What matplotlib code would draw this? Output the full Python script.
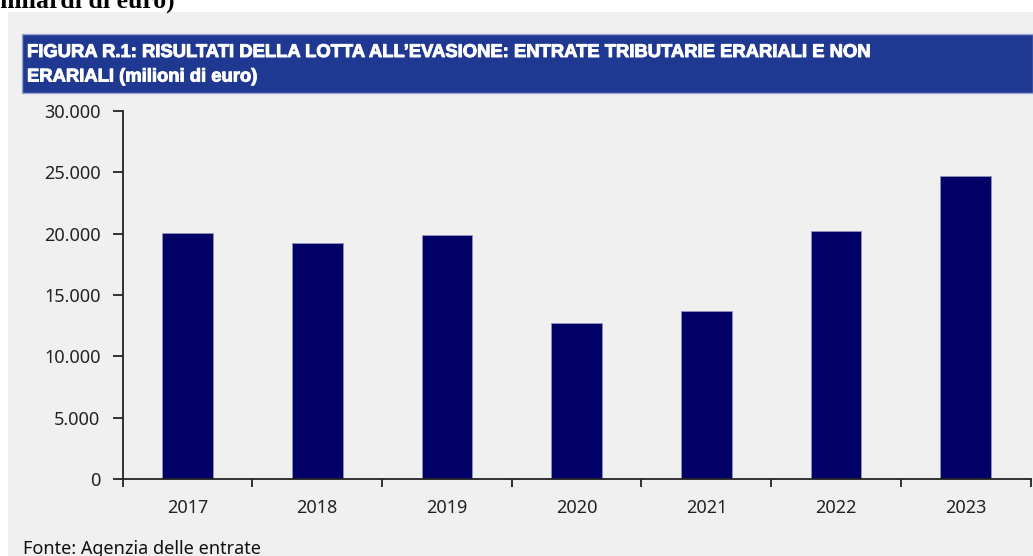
import matplotlib
matplotlib.use("Agg")
import matplotlib.pyplot as plt
import matplotlib.patheffects as pe
from matplotlib.patches import Rectangle
from matplotlib.ticker import FuncFormatter, FixedLocator

# ---- data ----
years = ["2017", "2018", "2019", "2020", "2021", "2022", "2023"]
values = [20050, 19210, 19860, 12720, 13730, 20210, 24680]
y_ticks = [0, 5000, 10000, 15000, 20000, 25000, 30000]
title_line1 = "FIGURA R.1: RISULTATI DELLA LOTTA ALL\u2019EVASIONE: ENTRATE TRIBUTARIE ERARIALI E NON"
title_line2 = "ERARIALI (milioni di euro)"
source = "Fonte: Agenzia delle entrate"
top_text = "miliardi di euro)"

W, H = 1033, 556
DPI = 100
fig = plt.figure(figsize=(W / DPI, H / DPI), dpi=DPI)
fig.patch.set_facecolor("white")

def fx(px):
    return px / W

def fy(py):
    return 1 - py / H

# gray panel
fig.add_artist(Rectangle((fx(8), 0), 1 - fx(8), fy(12), transform=fig.transFigure,
                         facecolor="#f0f0f0", edgecolor="none", zorder=0))
# blue title bar
fig.add_artist(Rectangle((fx(22), fy(93)), 1 - fx(22), fy(34) - fy(93), transform=fig.transFigure,
                         facecolor="#1f3892", edgecolor="#9aa6cf", linewidth=1.0, zorder=1))

NAVY = "#000066"
txt_font = ["Noto Sans", "DejaVu Sans"]

ax = fig.add_axes([fx(122.7), fy(479.3), fx(1030.6) - fx(122.7), fy(110.7) - fy(479.3)])
ax.set_facecolor("none")
x = list(range(len(years)))
ax.bar(x, values, width=0.39, color=NAVY, edgecolor="#8f93bd", linewidth=0.6, zorder=2)
ax.set_xlim(-0.5, len(years) - 0.5)
ax.set_ylim(0, 30000)

for s in ["top", "right"]:
    ax.spines[s].set_visible(False)
for s in ["left", "bottom"]:
    ax.spines[s].set_color("#222222")
    ax.spines[s].set_linewidth(1.3)

ax.set_yticks(y_ticks)
ax.yaxis.set_major_formatter(FuncFormatter(lambda v, p: f"{int(v):,}".replace(",", ".")))
ax.tick_params(axis="y", direction="out", length=7, width=1.3, color="#222222",
               labelsize=13, labelcolor="#222222", pad=9)

# boundary ticks (major) and labels at centres (minor)
ax.xaxis.set_major_locator(FixedLocator([i - 0.5 for i in range(len(years) + 1)]))
ax.xaxis.set_major_formatter(FuncFormatter(lambda v, p: ""))
ax.xaxis.set_minor_locator(FixedLocator(x))
ax.set_xticklabels(years, minor=True)
ax.tick_params(axis="x", which="major", direction="out", length=6, width=1.3, color="#222222")
ax.tick_params(axis="x", which="minor", length=0, labelsize=13, labelcolor="#222222", pad=14)

for lab in ax.get_xticklabels(minor=True) + ax.get_yticklabels():
    lab.set_family(txt_font)

# title text
title_font = ["Liberation Sans", "DejaVu Sans"]
heavy = [pe.withStroke(linewidth=0.7, foreground="white")]
t1 = fig.text(fx(27), fy(57), title_line1, color="white", fontweight="bold",
              family=title_font, fontsize=12, va="baseline", ha="left", zorder=3,
              path_effects=heavy)
t2 = fig.text(fx(27), fy(81.5), title_line2, color="white", fontweight="bold",
              family=title_font, fontsize=12, va="baseline", ha="left", zorder=3,
              path_effects=heavy)
fig.canvas.draw()
r = fig.canvas.get_renderer()
wpx = t1.get_window_extent(r).width
s = 841 / wpx
t1.set_fontsize(12 * s)
t2.set_fontsize(12 * s)

# source
fig.text(fx(23), fy(554), source, color="#111111", fontsize=13, family=txt_font,
         va="baseline", ha="left")

# cut-off heading at top (cut in the reference too)
fig.text(fx(-7), fy(8), top_text, color="black", fontsize=18.5, fontweight="bold",
         family=["Liberation Serif", "DejaVu Serif"], va="baseline", ha="left")

fig.savefig("out.png", dpi=DPI, facecolor=fig.get_facecolor())
